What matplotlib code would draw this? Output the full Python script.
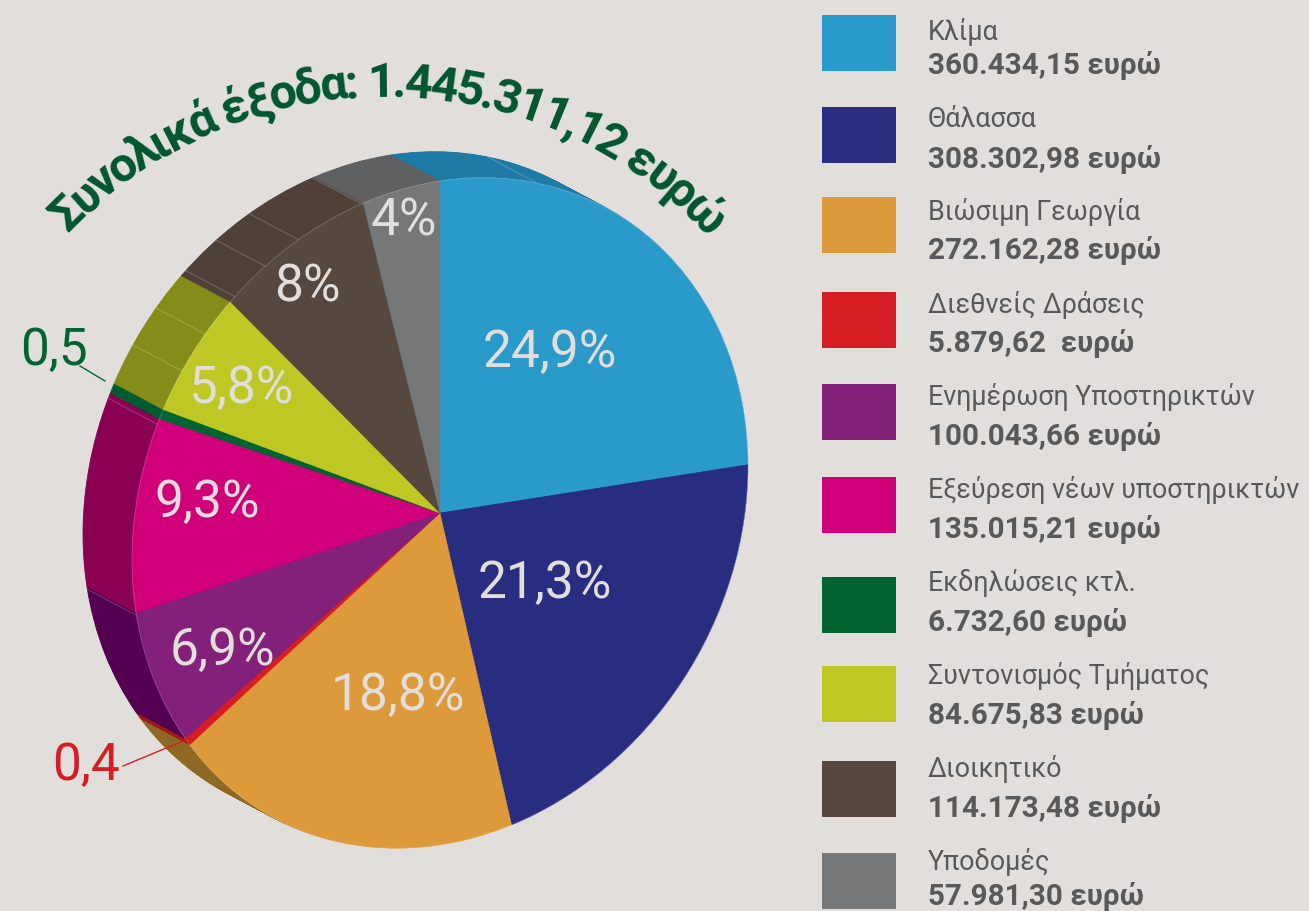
import numpy as np
import matplotlib
matplotlib.use('Agg')
import matplotlib.pyplot as plt
from matplotlib.transforms import Affine2D
from matplotlib.patches import Circle, Rectangle

# data
categories = ['Κλίμα', 'Θάλασσα', 'Βιώσιμη Γεωργία', 'Διεθνείς Δράσεις', 'Ενημέρωση Υποστηρικτών',
              'Εξεύρεση νέων υποστηρικτών', 'Εκδηλώσεις κτλ.', 'Συντονισμός Τμήματος', 'Διοικητικό', 'Υποδομές']
euros = [360434.15, 308302.98, 272162.28, 5879.62, 100043.66, 135015.21, 6732.60, 84675.83, 114173.48, 57981.30]
euro_labels = ['360.434,15 ευρώ', '308.302,98 ευρώ', '272.162,28 ευρώ', '5.879,62  ευρώ', '100.043,66 ευρώ',
               '135.015,21 ευρώ', '6.732,60 ευρώ', '84.675,83 ευρώ', '114.173,48 ευρώ', '57.981,30 ευρώ']
pct_labels = ['24,9%', '21,3%', '18,8%', '0,4', '6,9%', '9,3%', '0,5', '5,8%', '8%', '4%']
title = 'Συνολικά έξοδα: 1.445.311,12 ευρώ'

# colours
bg = '#e2dedb'
front = ['#2a9acb', '#282d80', '#dd9a3a', '#d71d24', '#82207a', '#cf007a', '#006432', '#bfc724', '#56473f', '#767779']
back = ['#1f7aa6', '#1c2060', '#8f6823', '#a3161a', '#52004f', '#8a0052', '#005c30', '#858c18', '#4f403a', '#5f6062']
grey_txt = '#58595b'

# layout (pixels)
cx, cy = 440, 514
depth = (-49, -26)
pct_pos = [(550, 353), (545, 584), (398, 696), (86, 766), (222, 651), (207, 503), (54, 351), (241, 389), (307, 288), (404, 222)]
swatch_top = [16, 108, 198, 293, 385, 478, 578, 667, 762, 854]
name_y = [32, 119, 212, 305, 397, 490, 583, 676, 769, 862]
value_y = [66, 159, 251, 344, 437, 530, 623, 716, 809, 897]
# thin facet lines on the side of the pie, in percent of the circle
facets = [5.1, 72.3, 81.5, 84.2, 86.2, 88.4, 90.4, 92.4, 95.9]


def pie_transform(dx, dy):
    # the pie is a sheared ellipse, not a circle
    return Affine2D.from_values(308, -47, 0, -332, cx + dx, cy + dy)


fig = plt.figure(figsize=(13.09, 9.12), dpi=100, facecolor=bg)
ax = fig.add_axes([0, 0, 1, 1])

# side of the pie: same pie repeated from the back to the front
for t in np.linspace(1, 0.02, 50):
    tr = pie_transform(depth[0] * t, depth[1] * t) + ax.transData
    wedges, _ = ax.pie(euros, colors=back, startangle=90, counterclock=False)
    for w in wedges:
        w.set_transform(tr)
        w.set_edgecolor(w.get_facecolor())
        w.set_linewidth(0.6)

for f in facets:
    a = 2 * np.pi * f / 100
    p0 = pie_transform(0, 0).transform((np.sin(a), np.cos(a)))
    ax.plot([p0[0], p0[0] + depth[0]], [p0[1], p0[1] + depth[1]], color='white', alpha=0.22, lw=0.7, zorder=2)

wedges, _ = ax.pie(euros, colors=front, startangle=90, counterclock=False)
tr = pie_transform(0, 0) + ax.transData
for w in wedges:
    w.set_transform(tr)
    w.set_zorder(3)
    w.set_edgecolor(w.get_facecolor())
    w.set_linewidth(0.3)
ax.add_patch(Circle((0, 0), 1, fill=False, ec='white', alpha=0.2, lw=0.7, transform=tr, zorder=3))

ax.set_xlim(0, 1309)
ax.set_ylim(912, 0)
ax.set_aspect('auto')

# percent labels
for i, (lab, pos) in enumerate(zip(pct_labels, pct_pos)):
    col = '#e2dedb'
    if lab == '0,4':
        col = front[3]
    if lab == '0,5':
        col = front[6]
    ax.text(pos[0], pos[1], lab, color=col, fontsize=37, family='Roboto', weight='normal',
            ha='center', va='center', zorder=5)
ax.plot([80, 105], [367, 382], color=front[6], lw=1, zorder=4)
ax.plot([123, 188], [767, 740], color=front[3], lw=1, zorder=4)

# legend
for i in range(len(categories)):
    ax.add_patch(Rectangle((822, swatch_top[i]), 74, 56, fc=front[i], ec='none', zorder=3))
    ax.text(928, name_y[i], categories[i], color=grey_txt, fontsize=19.4, family='Roboto', weight='normal',
            ha='left', va='center')
    ax.text(928, value_y[i], euro_labels[i], color=grey_txt, fontsize=21.3, family='Roboto', weight='bold',
            ha='left', va='center')

# title on an arc
fig.canvas.draw()
rend = fig.canvas.get_renderer()
title_cx, title_cy, title_r = 385, 535, 438
title_size = 35
widths = []
for ch in title:
    if ch == ' ':
        widths.append(13)
        continue
    tmp = ax.text(0, 0, ch, fontsize=title_size, family='Roboto', weight='bold')
    widths.append(tmp.get_window_extent(rend).width)
    tmp.remove()
arc_start = np.radians(-46.5)
arc_end = np.radians(47.5)
gap = (title_r * (arc_end - arc_start) - sum(widths)) / (len(title) - 1)
s = title_r * arc_start
for ch, w in zip(title, widths):
    ang = (s + w / 2) / title_r
    ax.text(title_cx + title_r * np.sin(ang), title_cy - title_r * np.cos(ang), ch, color='#00562e',
            fontsize=title_size, family='Roboto', weight='bold', rotation=-np.degrees(ang),
            rotation_mode='anchor', ha='center', va='baseline', zorder=6)
    s += w + gap

fig.savefig('out.png', dpi=100, facecolor=bg)
